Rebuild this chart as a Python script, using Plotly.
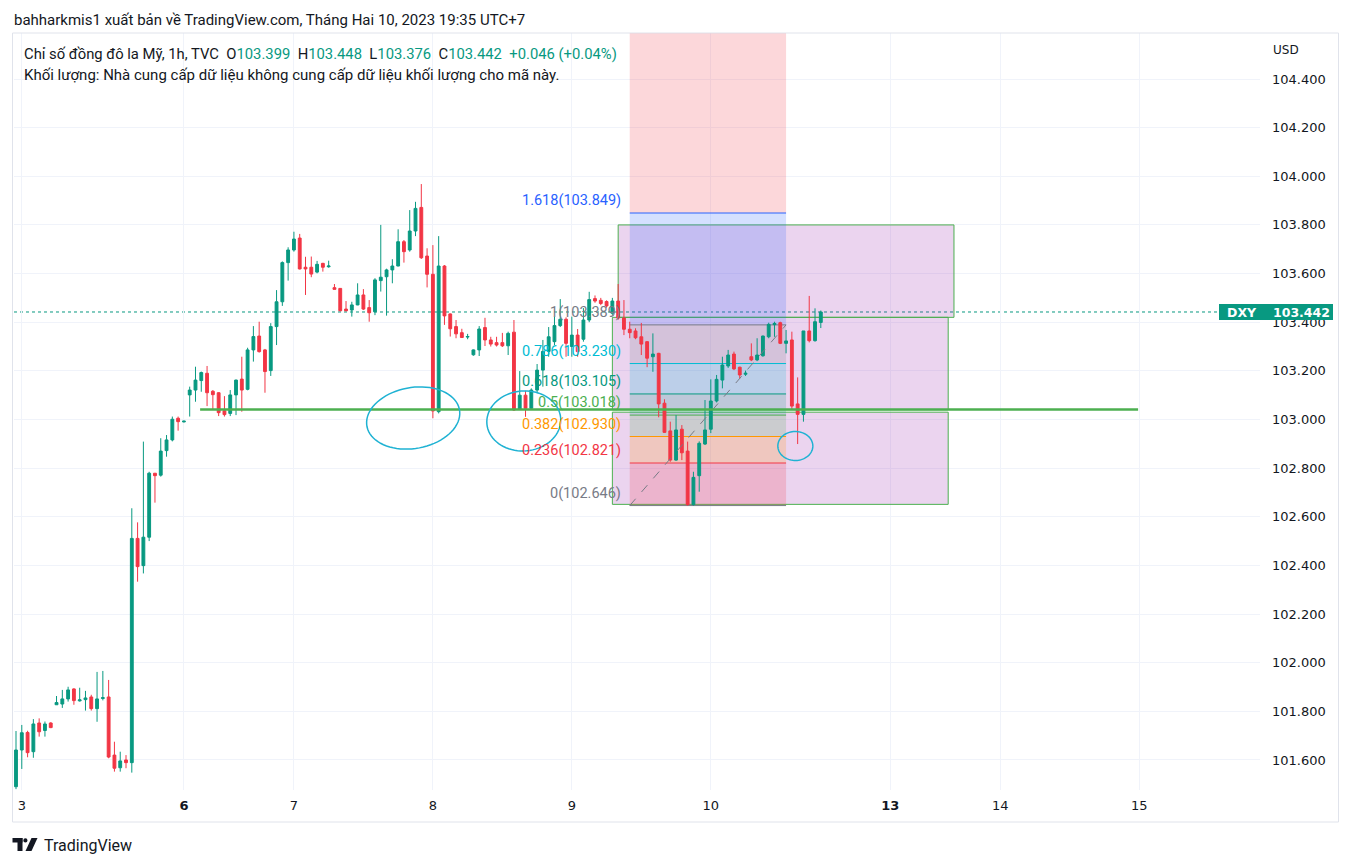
import numpy as np
import plotly.graph_objects as go

# ---------------- data (hourly DXY bars) ----------------
opens = [101.490, 101.641, 101.713, 101.634, 101.752, 101.721, 101.752, 101.827, 101.830, 101.851,
         101.892, 101.843, 101.848, 101.859, 101.811, 101.853, 101.859, 101.620, 101.568, 101.600,
         101.589, 102.511, 102.399, 102.516, 102.779, 102.771, 102.872, 102.916, 103.005, 102.990,
         103.101, 103.121, 103.160, 103.190, 103.116, 103.110, 103.036, 103.025, 103.101, 103.166,
         103.124, 103.286, 103.343, 103.286, 103.201, 103.382, 103.484, 103.645, 103.697, 103.746,
         103.626, 103.626, 103.606, 103.642, 103.628, 103.542, 103.539, 103.454, 103.450, 103.471,
         103.512, 103.460, 103.443, 103.571, 103.587, 103.615, 103.631, 103.731, 103.697, 103.775,
         103.872, 103.672, 103.597, 103.032, 103.631, 103.434, 103.382, 103.357, 103.339, 103.266,
         103.286, 103.378, 103.327, 103.316, 103.316, 103.303, 103.359, 103.041, 103.100, 103.046,
         103.121, 103.203, 103.280, 103.320, 103.386, 103.412, 103.300, 103.347, 103.330, 103.409,
         103.497, 103.490, 103.485, 103.437, 103.487, 103.417, 103.371, 103.364, 103.340, 103.320,
         103.258, 103.272, 103.067, 102.953, 102.833, 102.960, 102.870, 102.650, 102.769, 102.899,
         102.960, 103.076, 103.162, 103.220, 103.269, 103.215, 103.186, 103.258, 103.245, 103.262,
         103.340, 103.390, 103.398, 103.313, 103.327, 103.064, 103.021, 103.364, 103.324, 103.399]
highs = [101.719, 101.744, 101.720, 101.768, 101.771, 101.758, 101.755, 101.863, 101.888, 101.901,
         101.895, 101.897, 101.884, 101.868, 101.962, 101.966, 101.929, 101.675, 101.634, 101.620,
         102.635, 102.577, 102.909, 102.785, 102.780, 102.923, 102.936, 103.012, 103.012, 102.995,
         103.135, 103.217, 103.197, 103.220, 103.121, 103.112, 103.096, 103.121, 103.164, 103.258,
         103.295, 103.384, 103.402, 103.290, 103.396, 103.532, 103.650, 103.708, 103.772, 103.763,
         103.669, 103.670, 103.652, 103.644, 103.653, 103.557, 103.540, 103.487, 103.484, 103.560,
         103.536, 103.491, 103.581, 103.800, 103.620, 103.659, 103.782, 103.738, 103.861, 103.895,
         103.968, 103.704, 103.717, 103.754, 103.635, 103.436, 103.409, 103.373, 103.352, 103.288,
         103.384, 103.418, 103.340, 103.340, 103.356, 103.361, 103.409, 103.199, 103.118, 103.128,
         103.228, 103.327, 103.380, 103.423, 103.495, 103.420, 103.423, 103.372, 103.458, 103.525,
         103.510, 103.500, 103.490, 103.500, 103.557, 103.491, 103.402, 103.375, 103.397, 103.322,
         103.354, 103.274, 103.083, 102.991, 103.018, 102.977, 102.909, 102.785, 102.910, 103.080,
         103.165, 103.183, 103.258, 103.286, 103.279, 103.217, 103.201, 103.313, 103.334, 103.345,
         103.398, 103.402, 103.402, 103.368, 103.361, 103.173, 103.364, 103.508, 103.457, 103.448]
lows = [101.480, 101.563, 101.611, 101.609, 101.696, 101.696, 101.731, 101.826, 101.814, 101.840,
        101.827, 101.840, 101.803, 101.803, 101.757, 101.845, 101.607, 101.552, 101.552, 101.566,
        101.548, 102.333, 102.367, 102.500, 102.658, 102.765, 102.847, 102.910, 102.954, 102.988,
        103.012, 103.073, 103.114, 103.055, 103.039, 103.014, 103.012, 103.014, 103.018, 103.032,
        103.120, 103.238, 103.275, 103.110, 103.179, 103.306, 103.467, 103.571, 103.690, 103.617,
        103.512, 103.585, 103.601, 103.608, 103.624, 103.535, 103.445, 103.445, 103.423, 103.470,
        103.450, 103.402, 103.429, 103.526, 103.427, 103.560, 103.630, 103.645, 103.690, 103.754,
        103.660, 103.543, 103.005, 103.025, 103.389, 103.341, 103.334, 103.335, 103.330, 103.262,
        103.261, 103.302, 103.300, 103.300, 103.298, 103.265, 103.035, 103.040, 103.011, 103.040,
        103.108, 103.135, 103.258, 103.306, 103.380, 103.258, 103.258, 103.258, 103.320, 103.400,
        103.480, 103.470, 103.460, 103.430, 103.410, 103.347, 103.334, 103.330, 103.265, 103.215,
        103.196, 103.009, 102.945, 102.826, 102.830, 102.833, 102.646, 102.646, 102.703, 102.895,
        102.944, 103.070, 103.128, 103.212, 103.203, 103.169, 103.179, 103.240, 103.240, 103.258,
        103.334, 103.340, 103.310, 103.272, 103.039, 102.899, 102.991, 103.317, 103.320, 103.376]
closes = [101.641, 101.712, 101.630, 101.748, 101.716, 101.748, 101.733, 101.836, 101.851, 101.888,
          101.844, 101.847, 101.855, 101.811, 101.851, 101.856, 101.612, 101.566, 101.596, 101.589,
          102.511, 102.395, 102.516, 102.779, 102.769, 102.870, 102.916, 103.001, 102.991, 102.993,
          103.121, 103.162, 103.193, 103.110, 103.102, 103.028, 103.020, 103.101, 103.162, 103.121,
          103.286, 103.341, 103.279, 103.197, 103.382, 103.484, 103.645, 103.697, 103.742, 103.619,
          103.619, 103.598, 103.638, 103.626, 103.631, 103.535, 103.447, 103.447, 103.471, 103.512,
          103.454, 103.439, 103.574, 103.585, 103.615, 103.631, 103.731, 103.690, 103.775, 103.868,
          103.665, 103.597, 103.035, 103.631, 103.426, 103.373, 103.352, 103.337, 103.341, 103.286,
          103.372, 103.327, 103.310, 103.306, 103.303, 103.354, 103.039, 103.100, 103.046, 103.121,
          103.203, 103.280, 103.340, 103.386, 103.412, 103.313, 103.347, 103.279, 103.409, 103.493,
          103.487, 103.477, 103.467, 103.487, 103.417, 103.371, 103.357, 103.336, 103.310, 103.252,
          103.269, 103.064, 102.947, 102.833, 102.957, 102.863, 102.650, 102.762, 102.902, 102.957,
          103.076, 103.165, 103.224, 103.265, 103.208, 103.183, 103.190, 103.245, 103.265, 103.343,
          103.391, 103.395, 103.313, 103.323, 103.055, 103.021, 103.364, 103.324, 103.402, 103.442]
bar_index = list(range(len(opens)))

day_tick_pos = [1, 29, 48, 72, 96, 120, 151, 170, 194]
day_tick_text = ["3", "<b>6</b>", "7", "8", "9", "10", "<b>13</b>", "14", "15"]

price_ticks = [101.6, 101.8, 102.0, 102.2, 102.4, 102.6, 102.8, 103.0, 103.2, 103.4, 103.6, 103.8, 104.0, 104.2, 104.4]
price_tick_text = ["%.3f" % v for v in price_ticks]

last_price = 103.442
ohlc_header = {"O": 103.399, "H": 103.448, "L": 103.376, "C": 103.442}
change_text = "+0.046 (+0.04%)"

# Fibonacci retracement drawing
fib_ratios = [0, 0.236, 0.382, 0.5, 0.618, 0.786, 1, 1.618, 2.618]
fib_prices = [102.646, 102.821, 102.930, 103.018, 103.105, 103.230, 103.389, 103.849, 104.591]
fib_colors = ["#787b86", "#f23645", "#ff9800", "#4caf50", "#089981", "#00bcd4", "#787b86", "#2962ff", "#f23645"]
fib_labelled = 8          # first eight levels carry a label
fib_start_bar, fib_end_bar = 106, 133

# rectangles (bar from, bar to, price low, price high)
zone_bar0 = [104, 103, 103]
zone_bar1 = [162, 161, 161]
zone_low = [103.420, 103.040, 102.651]
zone_high = [103.800, 103.420, 103.030]

# horizontal support line
support_bar0, support_bar1, support_price = 31.8, 193.8, 103.041

# hand-drawn circles: centre bar, centre price
circle_bar = [68.6, 87.7, 134.6]
circle_price = [103.006, 102.994, 102.891]

# ---------------- geometry / style ----------------
W, H = 1352, 866
PL, PR, PT, PB = 14, 1260, 33, 790
BAR0_PX, BAR_PX = 16.0, 5.79
Y_REF_PX, Y_REF_P, PX_PER_P = 79.0, 104.4, 243.2

x_min = (PL - BAR0_PX) / BAR_PX
x_max = (PR - BAR0_PX) / BAR_PX
y_max = Y_REF_P + (Y_REF_PX - PT) / PX_PER_P
y_min = Y_REF_P - (PB - Y_REF_PX) / PX_PER_P

UP, DOWN = "#089981", "#f23645"
TXT = "#131722"
GRID = "#f0f3fa"
FONT = "Roboto"
AXFONT = "DejaVu Sans"


def pxx(px):
    return (px - PL) / (PR - PL)


def pxy(py):
    return (PB - py) / (PB - PT)


def rgba(hexc, a):
    h = hexc.lstrip("#")
    return "rgba(%d,%d,%d,%.3f)" % (int(h[0:2], 16), int(h[2:4], 16), int(h[4:6], 16), a)


fig = go.Figure()
fig.add_trace(go.Candlestick(
    x=bar_index, open=opens, high=highs, low=lows, close=closes,
    increasing=dict(line=dict(color=UP, width=1), fillcolor=UP),
    decreasing=dict(line=dict(color=DOWN, width=1), fillcolor=DOWN),
    whiskerwidth=0, showlegend=False, hoverinfo="skip"))

shapes = []
# rectangles
for b0, b1, lo, hi in zip(zone_bar0, zone_bar1, zone_low, zone_high):
    shapes.append(dict(type="rect", xref="x", yref="y", x0=b0, x1=b1, y0=lo, y1=hi,
                       fillcolor="rgba(156,39,176,0.2)", line=dict(color="#4caf50", width=1), layer="between"))
# fib bands
for i in range(len(fib_prices) - 1):
    shapes.append(dict(type="rect", xref="x", yref="y", x0=fib_start_bar, x1=fib_end_bar,
                       y0=fib_prices[i], y1=fib_prices[i + 1], fillcolor=rgba(fib_colors[i + 1], 0.2),
                       line=dict(width=0), layer="between"))
# fib lines
for i in range(len(fib_prices)):
    shapes.append(dict(type="line", xref="x", yref="y", x0=fib_start_bar, x1=fib_end_bar,
                       y0=fib_prices[i], y1=fib_prices[i], line=dict(color=fib_colors[i], width=1), layer="between"))
# fib trend line (dashed)
shapes.append(dict(type="line", xref="x", yref="y", x0=fib_start_bar, y0=fib_prices[0],
                   x1=fib_end_bar, y1=fib_prices[6], line=dict(color="#787b86", width=1, dash="dash"), layer="above"))
# current price dotted line
shapes.append(dict(type="line", xref="paper", yref="y", x0=0, x1=pxx(1219), y0=last_price, y1=last_price,
                   line=dict(color=UP, width=1, dash="dot"), layer="between"))
# support line
shapes.append(dict(type="line", xref="x", yref="y", x0=support_bar0, x1=support_bar1,
                   y0=support_price, y1=support_price, line=dict(color="#4caf50", width=2.5), layer="above"))

# hand drawn circles
circ_rx = [47, 37, 17.5]
circ_ry = [30.5, 30, 14.5]
circ_tilt = [-10, -4, 0]
for cb, cp, rx, ry, tilt in zip(circle_bar, circle_price, circ_rx, circ_ry, circ_tilt):
    t = np.linspace(-0.6, 2 * np.pi - 0.35, 80)
    ex, ey = rx * np.cos(t), ry * np.sin(t)
    th = np.deg2rad(tilt)
    rxp = ex * np.cos(th) - ey * np.sin(th)
    ryp = ex * np.sin(th) + ey * np.cos(th)
    xs = cb + rxp / BAR_PX
    ys = cp - ryp / PX_PER_P
    path = "M " + " L ".join("%.4f,%.5f" % (a, b) for a, b in zip(xs, ys))
    shapes.append(dict(type="path", xref="x", yref="y", path=path,
                       line=dict(color="#1fb2d3", width=1.5), layer="above"))

# frame around chart
shapes.append(dict(type="rect", xref="paper", yref="paper", x0=pxx(12.5), x1=pxx(1338.5),
                   y0=pxy(822), y1=pxy(33), line=dict(color="#e0e3eb", width=1), fillcolor="rgba(0,0,0,0)",
                   layer="above"))
# price label box
shapes.append(dict(type="rect", xref="paper", yref="paper", x0=pxx(1219), x1=pxx(1333),
                   y0=pxy(320), y1=pxy(304), fillcolor=UP, line=dict(width=0), layer="above"))
# TradingView logo
shapes.append(dict(type="rect", xref="paper", yref="paper", x0=pxx(12.5), x1=pxx(22.5), y0=pxy(842.5), y1=pxy(838),
                   fillcolor=TXT, line=dict(width=0), layer="above"))
shapes.append(dict(type="rect", xref="paper", yref="paper", x0=pxx(17.5), x1=pxx(22.5), y0=pxy(851), y1=pxy(838),
                   fillcolor=TXT, line=dict(width=0), layer="above"))
shapes.append(dict(type="circle", xref="paper", yref="paper", x0=pxx(23.3), x1=pxx(27.5), y0=pxy(842.5), y1=pxy(838.3),
                   fillcolor=TXT, line=dict(width=0), layer="above"))
shapes.append(dict(type="path", xref="paper", yref="paper",
                   path="M %f,%f L %f,%f L %f,%f L %f,%f Z" % (pxx(31.5), pxy(838), pxx(37.5), pxy(838),
                                                                 pxx(31.5), pxy(851), pxx(25.5), pxy(851)),
                   fillcolor=TXT, line=dict(width=0), layer="above"))

ann = []
for i in range(fib_labelled):
    lab = ("%g" % fib_ratios[i]) + "(%.3f)" % fib_prices[i]
    ann.append(dict(x=fib_start_bar, y=fib_prices[i], xref="x", yref="y", text=lab, showarrow=False,
                    xanchor="right", yanchor="bottom", xshift=-7, yshift=2,
                    font=dict(family=FONT, size=14.5, color=fib_colors[i])))

val = lambda k: "<span style='color:%s'>%.3f</span>" % (UP, ohlc_header[k])
line1 = ("Chỉ số đồng đô la Mỹ, 1h, TVC&nbsp;&nbsp;O" + val("O") + "&nbsp;&nbsp;H" + val("H") +
         "&nbsp;&nbsp;L" + val("L") + "&nbsp;&nbsp;C" + val("C") +
         "&nbsp;&nbsp;<span style='color:%s'>%s</span>" % (UP, change_text))
ann += [
    dict(x=pxx(12), y=pxy(20), xref="paper", yref="paper", xanchor="left", yanchor="middle", showarrow=False,
         text="bahharkmis1 xuất bản về TradingView.com, Tháng Hai 10, 2023 19:35 UTC+7",
         font=dict(family=FONT, size=15, color=TXT)),
    dict(x=pxx(22), y=pxy(54), xref="paper", yref="paper", xanchor="left", yanchor="middle", showarrow=False,
         text=line1, font=dict(family=FONT, size=14.8, color=TXT)),
    dict(x=pxx(22), y=pxy(75), xref="paper", yref="paper", xanchor="left", yanchor="middle", showarrow=False,
         text="Khối lượng: Nhà cung cấp dữ liệu không cung cấp dữ liệu khối lượng cho mã này.",
         font=dict(family=FONT, size=15, color=TXT)),
    dict(x=pxx(1271), y=pxy(50), xref="paper", yref="paper", xanchor="left", yanchor="middle", showarrow=False,
         text="USD", font=dict(family=AXFONT, size=12, color=TXT)),
    dict(x=pxx(1225), y=pxy(312), xref="paper", yref="paper", xanchor="left", yanchor="middle", showarrow=False,
         text="<b>DXY</b>", font=dict(family=AXFONT, size=12.5, color="white")),
    dict(x=pxx(1271), y=pxy(312), xref="paper", yref="paper", xanchor="left", yanchor="middle", showarrow=False,
         text="<b>%.3f</b>" % last_price, font=dict(family=AXFONT, size=12.5, color="white")),
    dict(x=pxx(42), y=pxy(845), xref="paper", yref="paper", xanchor="left", yanchor="middle", showarrow=False,
         text="TradingView", font=dict(family=FONT, size=16, color=TXT)),
]

fig.update_layout(
    width=W, height=H, paper_bgcolor="white", plot_bgcolor="white",
    margin=dict(l=PL, r=W - PR, t=PT, b=H - PB, pad=0),
    showlegend=False, shapes=shapes, annotations=ann, hovermode=False,
    xaxis=dict(range=[x_min, x_max], tickvals=day_tick_pos, ticktext=day_tick_text, showgrid=True,
               gridcolor=GRID, gridwidth=1, zeroline=False, showline=False, ticks="", rangeslider=dict(visible=False),
               tickfont=dict(family=AXFONT, size=13, color=TXT), ticklabelstandoff=6, fixedrange=True),
    yaxis=dict(range=[y_min, y_max], side="right", tickvals=price_ticks, ticktext=price_tick_text,
               showgrid=True, gridcolor=GRID, gridwidth=1, zeroline=False, showline=False, ticks="",
               tickfont=dict(family=AXFONT, size=13, color=TXT), ticklabelstandoff=11, fixedrange=True),
)

fig.write_html("out.html", config={"displayModeBar": False},
               post_script="document.body.style.margin='0';document.body.style.overflow='hidden';")
